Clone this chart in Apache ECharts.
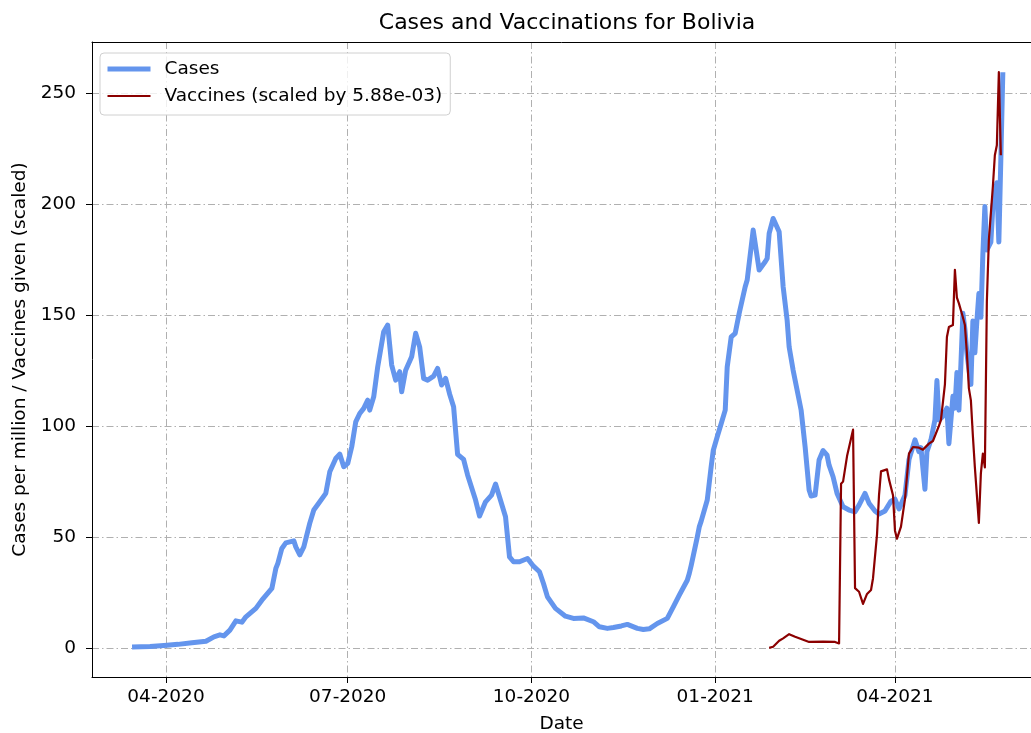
<!DOCTYPE html>
<html>
<head>
<meta charset="utf-8">
<script src="https://cdn.jsdelivr.net/npm/echarts@6/dist/echarts.min.js"></script>
<style>
  html, body { margin: 0; padding: 0; background: #fff; }
  #chart { width: 1031px; height: 733px; }
</style>
</head>
<body>
<div id="chart"></div>
<script>
// ---- Data ----
const casesDates = [
  '2020-03-15','2020-03-24','2020-03-31','2020-04-07','2020-04-14','2020-04-21','2020-04-25','2020-04-28','2020-04-30',
  '2020-05-03','2020-05-06','2020-05-09','2020-05-11','2020-05-16','2020-05-19','2020-05-24','2020-05-26','2020-05-27',
  '2020-05-29','2020-05-31','2020-06-01','2020-06-04','2020-06-05','2020-06-07','2020-06-09','2020-06-12','2020-06-14',
  '2020-06-17','2020-06-20','2020-06-22','2020-06-25','2020-06-27','2020-06-29','2020-07-01','2020-07-03','2020-07-05',
  '2020-07-07','2020-07-09','2020-07-11','2020-07-12','2020-07-14','2020-07-16','2020-07-19','2020-07-21','2020-07-23',
  '2020-07-25','2020-07-27','2020-07-28','2020-07-30','2020-08-02','2020-08-04','2020-08-06','2020-08-08','2020-08-10',
  '2020-08-13','2020-08-15','2020-08-17','2020-08-19','2020-08-21','2020-08-23','2020-08-25','2020-08-28','2020-08-30',
  '2020-09-03','2020-09-05','2020-09-08','2020-09-11','2020-09-13','2020-09-14','2020-09-18','2020-09-20','2020-09-22',
  '2020-09-25','2020-09-29','2020-10-02','2020-10-05','2020-10-07','2020-10-09','2020-10-13','2020-10-18','2020-10-22',
  '2020-10-27','2020-11-01','2020-11-04','2020-11-08','2020-11-11','2020-11-15','2020-11-18','2020-11-23','2020-11-26',
  '2020-11-29','2020-12-03','2020-12-08','2020-12-11','2020-12-14','2020-12-18','2020-12-19','2020-12-20','2020-12-23',
  '2020-12-24','2020-12-25','2020-12-28','2020-12-30','2020-12-31','2021-01-02','2021-01-04','2021-01-06','2021-01-07',
  '2021-01-09','2021-01-11','2021-01-13','2021-01-16','2021-01-17','2021-01-20','2021-01-23','2021-01-26','2021-01-27',
  '2021-01-28','2021-01-30','2021-02-02','2021-02-04','2021-02-06','2021-02-07','2021-02-09','2021-02-12','2021-02-13',
  '2021-02-15','2021-02-17','2021-02-18','2021-02-20','2021-02-22','2021-02-24','2021-02-26','2021-02-27','2021-03-01',
  '2021-03-03','2021-03-06','2021-03-09','2021-03-12','2021-03-14','2021-03-17','2021-03-19','2021-03-22','2021-03-24',
  '2021-03-27','2021-03-30','2021-04-01','2021-04-03','2021-04-06','2021-04-08','2021-04-11','2021-04-13','2021-04-14',
  '2021-04-16','2021-04-17','2021-04-19','2021-04-21','2021-04-22','2021-04-23','2021-04-25','2021-04-26','2021-04-27',
  '2021-04-28','2021-04-29','2021-04-30','2021-05-01','2021-05-02','2021-05-03','2021-05-04','2021-05-05','2021-05-06',
  '2021-05-07','2021-05-09','2021-05-10','2021-05-11','2021-05-12','2021-05-13','2021-05-14','2021-05-15','2021-05-16',
  '2021-05-17','2021-05-19','2021-05-20','2021-05-22','2021-05-23','2021-05-24','2021-05-25'
];
const casesValues = [
  0.5,0.7,1.2,1.7,2.4,3.1,5.1,6.0,5.5,
  8.1,12.3,11.7,14.1,17.9,21.6,26.9,35.9,38.2,
  44.9,47.4,47.9,48.3,45.6,42.0,45.6,56.3,62.2,
  65.9,69.7,79.4,85.4,87.4,81.7,83.2,90.7,101.9,
  105.7,108.0,111.7,107.2,113.2,126.7,142.5,145.5,127.5,
  120.7,124.5,115.5,125.2,131.2,141.8,135.7,121.5,120.7,
  122.5,126.0,118.5,121.5,114.5,108.7,87.3,85.0,78.0,
  66.7,59.5,65.9,68.9,73.9,73.0,59.2,41.1,38.9,
  38.9,40.4,36.9,34.4,29.1,23.1,17.9,14.4,13.4,
  13.6,11.9,9.6,8.9,9.3,10.0,10.7,8.9,8.4,
  8.7,11.1,13.4,18.6,23.9,30.6,33.6,37.4,50.0,
  54.6,57.3,66.7,82.0,89.0,95.2,101.2,107.2,126.7,
  140.2,141.8,150.8,162.8,165.8,188.3,170.3,174.0,175.5,
  186.8,193.5,187.5,162.8,147.7,135.7,125.2,111.7,107.2,
  90.7,71.2,68.5,68.9,84.7,89.0,86.9,82.4,77.2,
  69.7,63.7,62.2,61.4,64.4,69.7,65.3,61.8,60.4,
  61.8,66.2,67.1,62.7,68.9,84.9,93.8,88.5,90.3,
  71.6,88.5,93.8,102.7,120.5,102.7,104.5,106.3,108.1,
  92.1,102.7,113.4,108.1,124.1,107.2,127.7,150.8,143.7,
  133.0,118.8,147.3,133.0,147.3,159.7,149.0,177.5,198.9,
  179.3,182.9,198.9,209.6,182.9,220.3,259.4
];
const vaccDates = [
  '2021-01-28','2021-01-30','2021-02-02','2021-02-04','2021-02-07','2021-02-10','2021-02-17','2021-02-24','2021-03-02',
  '2021-03-04','2021-03-05','2021-03-06','2021-03-08','2021-03-11','2021-03-12','2021-03-14','2021-03-16','2021-03-18',
  '2021-03-20','2021-03-21','2021-03-23','2021-03-24','2021-03-25','2021-03-28','2021-03-29','2021-03-31','2021-04-01',
  '2021-04-02','2021-04-04','2021-04-06','2021-04-08','2021-04-10','2021-04-13','2021-04-15','2021-04-18','2021-04-20',
  '2021-04-23','2021-04-24','2021-04-26','2021-04-27','2021-04-28','2021-04-30','2021-05-01','2021-05-02','2021-05-03',
  '2021-05-05','2021-05-06','2021-05-07','2021-05-08','2021-05-09','2021-05-10','2021-05-11','2021-05-13','2021-05-14',
  '2021-05-15','2021-05-16','2021-05-17','2021-05-18','2021-05-20','2021-05-21','2021-05-22','2021-05-23','2021-05-24'
];
const vaccValues = [
  0.1,0.6,3.3,4.4,6.3,5.1,2.8,2.9,2.8,
  2.1,74.0,75.0,86.5,98.4,27.0,25.4,19.9,24.4,
  26.2,31.5,51.1,68.9,79.6,80.5,76.0,68.9,52.9,
  49.3,54.7,67.1,87.6,90.6,90.3,89.4,92.1,93.3,
  100.1,102.7,118.8,140.1,144.6,145.5,170.4,157.9,155.3,
  149.0,145.5,133.0,117.0,111.6,95.6,81.4,56.4,78.7,
  87.6,81.4,156.2,183.8,207.8,222.0,226.5,259.4,222.0
];
const xTickDates = ['2020-04-01','2020-07-01','2020-10-01','2021-01-01','2021-04-01'];
const yTickValues = [0, 50, 100, 150, 200, 250];

// ---- helpers ----
const DAY = 86400000;
function ts(s) { const p = s.split('-').map(Number); return Date.UTC(p[0], p[1] - 1, p[2]); }
function pairs(dates, vals) { return dates.map((d, i) => [ts(d), vals[i]]); }
function fmtMonth(v) {
  const d = new Date(v);
  const m = d.getUTCMonth() + 1;
  return (m < 10 ? '0' : '') + m + '-' + d.getUTCFullYear();
}

const FONT = 'DejaVu Sans';
const gridLine = { show: true, lineStyle: { color: '#b0b0b0', width: 1, type: [7, 3, 1.5, 3] } };
const xMin = ts('2020-02-24') - 0.05 * DAY;
const xMax = ts('2021-06-08') + 0.1 * DAY;
const SERIES_CASES = 'Cases';
const SERIES_VACC = 'Vaccines (scaled by 5.88e-03)';

const chart = echarts.init(document.getElementById('chart'), null, { renderer: 'canvas' });
chart.setOption({
  backgroundColor: '#ffffff',
  animation: false,
  textStyle: { fontFamily: FONT },
  title: {
    text: 'Cases and Vaccinations for Bolivia',
    left: 567, top: 12, textAlign: 'center', padding: 0,
    textStyle: { fontFamily: FONT, fontSize: 22, fontWeight: 'normal', color: '#000' }
  },
  grid: { left: 92, right: 0, top: 42, bottom: 56, show: false, outerBoundsMode: 'none', containLabel: false },
  legend: {
    orient: 'vertical', left: 100, top: 53,
    itemWidth: 43, itemHeight: 14, itemGap: 7,
    padding: [6, 8, 9, 5],
    borderColor: '#d0d0d0', borderWidth: 1, borderRadius: 4,
    backgroundColor: 'rgba(255,255,255,0.8)',
    itemStyle: { opacity: 0 },
    textStyle: { fontFamily: FONT, fontSize: 18.5, color: '#000', padding: [0, 0, 0, 9], lineHeight: 20 },
    data: [
      { name: SERIES_CASES, lineStyle: { width: 5, color: '#6495ED' } },
      { name: SERIES_VACC, lineStyle: { width: 2.2, color: '#8B0000' } }
    ]
  },
  xAxis: [{
    type: 'value',
    min: xMin, max: xMax,
    name: 'Date', nameLocation: 'middle', nameGap: 38,
    nameTextStyle: { fontFamily: FONT, fontSize: 18.5, color: '#000' },
    axisLine: { show: true, onZero: false, lineStyle: { color: '#000', width: 1 } },
    axisTick: { show: true, length: 6, lineStyle: { color: '#000' }, customValues: xTickDates.map(ts) },
    axisLabel: { fontFamily: FONT, fontSize: 18.5, color: '#000', margin: 11, customValues: xTickDates.map(ts), formatter: fmtMonth },
    splitLine: gridLine
  }, {
    type: 'value', position: 'top',
    min: xMin, max: xMax,
    axisLine: { show: true, onZero: false, lineStyle: { color: '#000', width: 1 } },
    axisTick: { show: false }, axisLabel: { show: false }, splitLine: { show: false }
  }],
  yAxis: {
    type: 'value',
    min: -13, max: 273,
    name: 'Cases per million / Vaccines given (scaled)', nameLocation: 'middle', nameGap: 54,
    nameTextStyle: { fontFamily: FONT, fontSize: 18.5, color: '#000' },
    axisLine: { show: true, onZero: false, lineStyle: { color: '#000', width: 1 } },
    axisTick: { show: true, length: 6, lineStyle: { color: '#000' }, customValues: yTickValues },
    axisLabel: { fontFamily: FONT, fontSize: 18.5, color: '#000', margin: 16, customValues: yTickValues },
    splitLine: gridLine
  },
  series: [
    {
      name: SERIES_CASES, type: 'line', data: pairs(casesDates, casesValues),
      symbol: 'none', showSymbol: false, smooth: false,
      lineStyle: { color: '#6495ED', width: 5, join: 'round' },
      itemStyle: { color: '#6495ED' }
    },
    {
      name: SERIES_VACC, type: 'line', data: pairs(vaccDates, vaccValues),
      symbol: 'none', showSymbol: false, smooth: false,
      lineStyle: { color: '#8B0000', width: 2.2, join: 'round' },
      itemStyle: { color: '#8B0000' }
    }
  ]
});
</script>
</body>
</html>
